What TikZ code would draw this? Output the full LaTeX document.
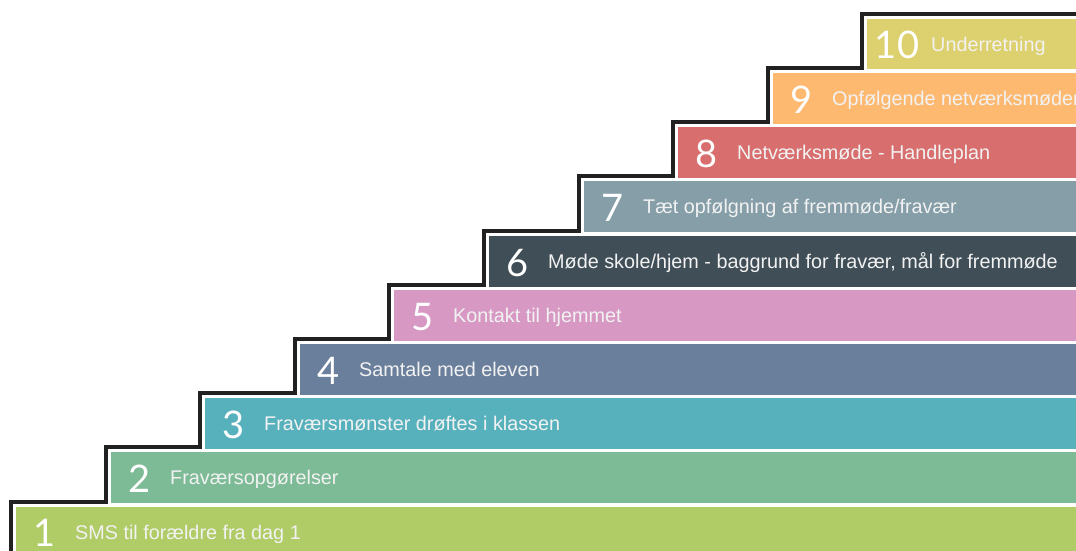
\documentclass[tikz,border=0pt]{standalone}
\usepackage{fontspec}
\setmainfont{Liberation Sans}
\newfontfamily\numfont{Lato}
\definecolor{stepA}{HTML}{B0CC66}
\definecolor{stepB}{HTML}{7DBB96}
\definecolor{stepC}{HTML}{57B1BC}
\definecolor{stepD}{HTML}{6A7F9B}
\definecolor{stepE}{HTML}{D799C3}
\definecolor{stepF}{HTML}{404E57}
\definecolor{stepG}{HTML}{859EA8}
\definecolor{stepH}{HTML}{D86E6E}
\definecolor{stepI}{HTML}{FDB970}
\definecolor{stepJ}{HTML}{DDD06E}
\tikzset{
  num/.style={text=white, font=\numfont\fontsize{38}{38}\selectfont, anchor=base, inner sep=0pt},
  lbl/.style={text=white!95!black, font=\fontsize{19.8}{20}\selectfont, anchor=base west, inner sep=0pt}
}

\begin{document}
\begin{tikzpicture}[x=1pt,y=-1pt]
			%%%%% START %%%%%
			\useasboundingbox (0,0) rectangle (1076,551);
			
			\fill[stepA] (16,507) rectangle (1076,551);
			\fill[stepB] (111,452) rectangle (1076,502.5);
			\fill[stepC] (205,398) rectangle (1076,448.5);
			\fill[stepD] (300,344) rectangle (1076,394.5);
			\fill[stepE] (394,290) rectangle (1076,340.5);
			\fill[stepF] (489,236) rectangle (1076,286.5);
			\fill[stepG] (584,181) rectangle (1076,231.5);
			\fill[stepH] (678,127) rectangle (1076,177.5);
			\fill[stepI] (773,73) rectangle (1076,123.5);
			\fill[stepJ] (867,19) rectangle (1076,69.5);
			
			\draw[line width=4pt, color=black!87] (11,553) -- (11,502) -- (106,502) -- (106,447)
			  -- (200,447) -- (200,393) -- (295,393) -- (295,339) -- (389,339) -- (389,285)
			  -- (484,285) -- (484,231) -- (579,231) -- (579,176) -- (673,176) -- (673,122)
			  -- (768,122) -- (768,68) -- (862,68) -- (862,14) -- (1078,14);
			
			\node[num] (n1) at (45,546) {1};
			\node[lbl] (t1) at (75,539.5) {SMS til forældre fra dag 1};
			\node[num] (n2) at (140,492) {2};
			\node[lbl] (t2) at (170,484.5) {Fraværsopgørelser};
			\node[num] (n3) at (234,438) {3};
			\node[lbl] (t3) at (264,430.5) {Fraværsmønster drøftes i klassen};
			\node[num] (n4) at (329,384) {4};
			\node[lbl] (t4) at (359,376.5) {Samtale med eleven};
			\node[num] (n5) at (423,330) {5};
			\node[lbl] (t5) at (453,322.5) {Kontakt til hjemmet};
			\node[num] (n6) at (518,276) {6};
			\node[lbl] (t6) at (548,268.5) {Møde skole/hjem - baggrund for fravær, mål for fremmøde};
			\node[num] (n7) at (613,221) {7};
			\node[lbl] (t7) at (643,213.5) {Tæt opfølgning af fremmøde/fravær};
			\node[num] (n8) at (707,167) {8};
			\node[lbl] (t8) at (737,159.5) {Netværksmøde - Handleplan};
			\node[num] (n9) at (802,113) {9};
			\node[lbl] (t9) at (832,105.5) {Opfølgende netværksmøder};
			\node[num] (n10) at (897,59) {10};
			\node[lbl] (t10) at (931,51.5) {Underretning};
			
			%%%%% END %%%%%
\end{tikzpicture}
\end{document}
